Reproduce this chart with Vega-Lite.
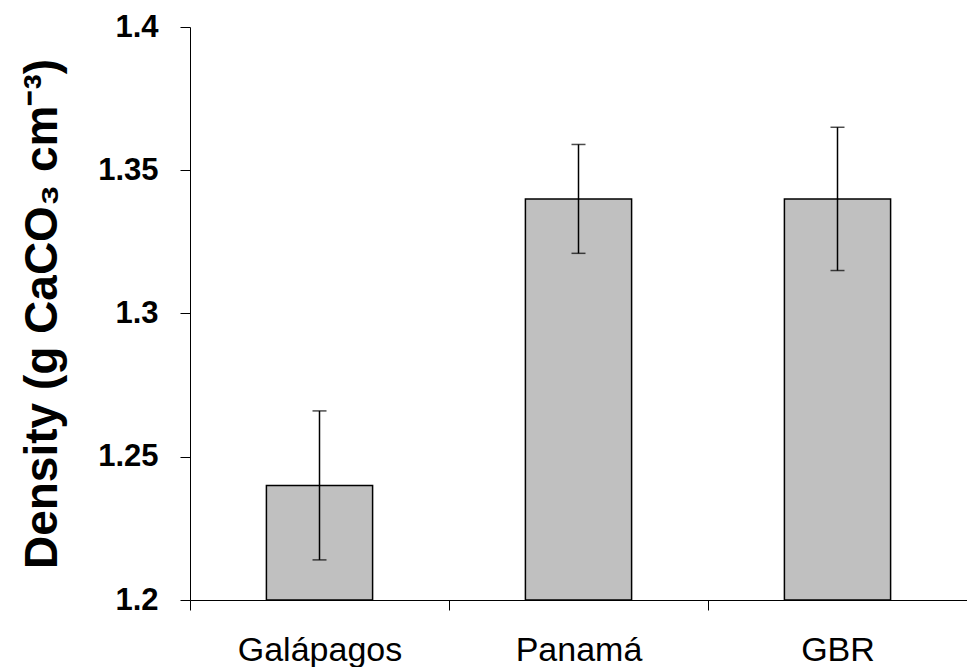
{
  "$schema": "https://vega.github.io/schema/vega-lite/v6.json",
  "width": 777,
  "height": 573,
  "autosize": {"type": "none"},
  "padding": {"left": 190, "top": 27, "right": 0, "bottom": 67},
  "background": "white",
  "config": {
    "view": {"stroke": null},
    "font": "Liberation Sans",
    "axis": {"domainColor": "black", "tickColor": "black", "labelColor": "black", "titleColor": "black", "domainWidth": 1, "tickWidth": 1, "grid": false}
  },
  "data": {
    "values": [
      {"site": "Galápagos", "density": 1.24, "lo": 1.214, "hi": 1.266},
      {"site": "Panamá", "density": 1.34, "lo": 1.321, "hi": 1.359},
      {"site": "GBR", "density": 1.34, "lo": 1.315, "hi": 1.365}
    ]
  },
  "encoding": {
    "x": {
      "field": "site", "type": "nominal", "sort": null,
      "scale": {"paddingInner": 0, "paddingOuter": 0},
      "axis": {"title": null, "labelAngle": 0, "labelFontSize": 34, "labelPadding": 23, "tickSize": 10, "tickBand": "extent", "labelFont": "Liberation Sans", "zindex": 1}
    }
  },
  "layer": [
    {
      "mark": {"type": "bar", "fill": "#c0c0c0", "stroke": "black", "strokeWidth": 1.5, "width": {"band": 0.41}},
      "encoding": {
        "y": {
          "field": "density", "type": "quantitative",
          "scale": {"domain": [1.2, 1.4], "nice": false, "zero": false},
          "axis": {"values": [1.2, 1.25, 1.3, 1.35, 1.4], "format": ".2~f", "tickSize": 10, "labelFontSize": 31, "labelFontWeight": "bold", "labelPadding": 22, "title": "Density (g CaCO₃ cm⁻³)", "titleFontSize": 46, "titleFontWeight": "bold", "titlePadding": 31}
        },
        "y2": {"datum": 1.2}
      }
    },
    {
      "mark": {"type": "rule", "color": "black", "strokeWidth": 1.5},
      "encoding": {
        "y": {"field": "lo", "type": "quantitative"},
        "y2": {"field": "hi"}
      }
    },
    {
      "mark": {"type": "tick", "color": "black", "size": 14, "thickness": 1.5, "orient": "horizontal"},
      "encoding": {"y": {"field": "lo", "type": "quantitative"}}
    },
    {
      "mark": {"type": "tick", "color": "black", "size": 14, "thickness": 1.5, "orient": "horizontal"},
      "encoding": {"y": {"field": "hi", "type": "quantitative"}}
    }
  ]
}
